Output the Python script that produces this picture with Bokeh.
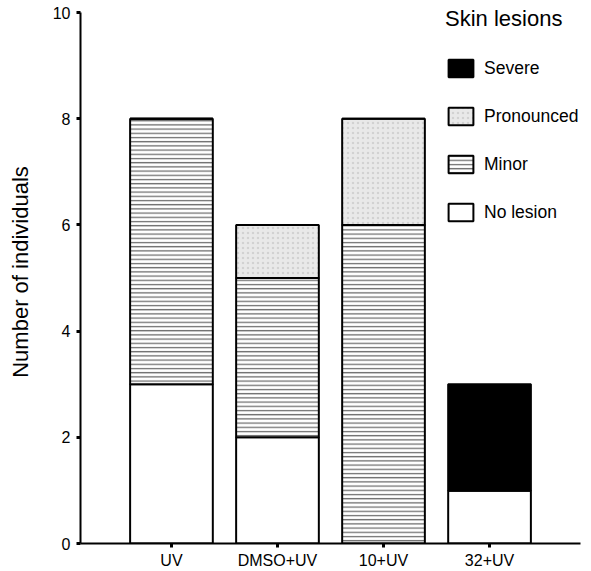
from bokeh.plotting import figure
from bokeh.models import FactorRange, Range1d, Legend, LegendItem, ColumnDataSource, FixedTicker
from bokeh.transform import stack
from bokeh.embed import file_html
from bokeh.resources import INLINE

categories = ["UV", "DMSO+UV", "10+UV", "32+UV"]
no_lesion = [3, 2, 0, 1]
minor = [5, 3, 6, 0]
pronounced = [0, 1, 2, 0]
severe = [0, 0, 0, 2]
y_ticks = [0, 2, 4, 6, 8, 10]
y_max = 10
series_names = ["No lesion", "Minor", "Pronounced", "Severe"]

source = ColumnDataSource(dict(cat=categories, none=no_lesion, minor=minor,
                               pron=pronounced, severe=severe))

FONT = "Liberation Sans"

p = figure(
    x_range=FactorRange(factors=categories, range_padding=0.358, range_padding_units="absolute"),
    y_range=Range1d(0, y_max * 1.0226),
    frame_width=500, frame_height=543,
    min_border_left=80, min_border_right=8, min_border_top=0, min_border_bottom=16,
    output_backend="svg", toolbar_location=None,
)

styles = [
    dict(fill_color="white"),
    dict(fill_color="white", hatch_pattern="horizontal_line", hatch_color="#6e6e6e",
         hatch_scale=4.2, hatch_weight=1.3),
    dict(fill_color="#e9e9e9", hatch_pattern="dot", hatch_color="#d2d2d2",
         hatch_scale=5, hatch_weight=1),
    dict(fill_color="black"),
]
keys = ["none", "minor", "pron", "severe"]
renderers = []
for i, k in enumerate(keys):
    r = p.vbar(x="cat", width=0.78, bottom=stack(*keys[:i]) if i else 0,
               top=stack(*keys[:i + 1]), source=source,
               line_color="black", line_width=2, **styles[i])
    renderers.append(r)

legend = Legend(
    items=[LegendItem(label=series_names[i], renderers=[renderers[i]]) for i in [3, 2, 1, 0]],
    location=(365, 320),
    title="Skin lesions",
    title_text_font=FONT, title_text_font_size="22px", title_text_font_style="normal",
    title_text_color="black",
    title_standoff=25,
    label_text_font=FONT, label_text_font_size="17.5px", label_text_color="black",
    glyph_width=31, glyph_height=22, label_height=22, spacing=26,
    label_standoff=8, padding=0, margin=0,
    border_line_color=None, background_fill_alpha=0,
)
p.add_layout(legend)

p.xgrid.grid_line_color = None
p.ygrid.grid_line_color = None
p.outline_line_color = None

p.yaxis.ticker = FixedTicker(ticks=y_ticks)
p.yaxis.bounds = (0, y_max)
p.yaxis.minor_tick_line_color = None
p.yaxis.axis_label = "Number of individuals"
p.yaxis.axis_label_text_font = FONT
p.yaxis.axis_label_text_font_size = "22px"
p.yaxis.axis_label_text_font_style = "normal"
p.yaxis.axis_label_text_color = "black"
p.yaxis.axis_label_standoff = 17

for ax in (p.xaxis, p.yaxis):
    ax.axis_line_width = 2
    ax.axis_line_color = "black"
    ax.major_tick_in = 0
    ax.major_tick_out = 4
    ax.major_tick_line_width = 3
    ax.major_tick_line_color = "black"
    ax.major_label_text_font = FONT
    ax.major_label_text_font_size = "16px"
    ax.major_label_text_color = "black"

p.yaxis.major_label_standoff = 6
p.xaxis.major_label_standoff = 4

open("out.html", "w").write(file_html(p, INLINE))
